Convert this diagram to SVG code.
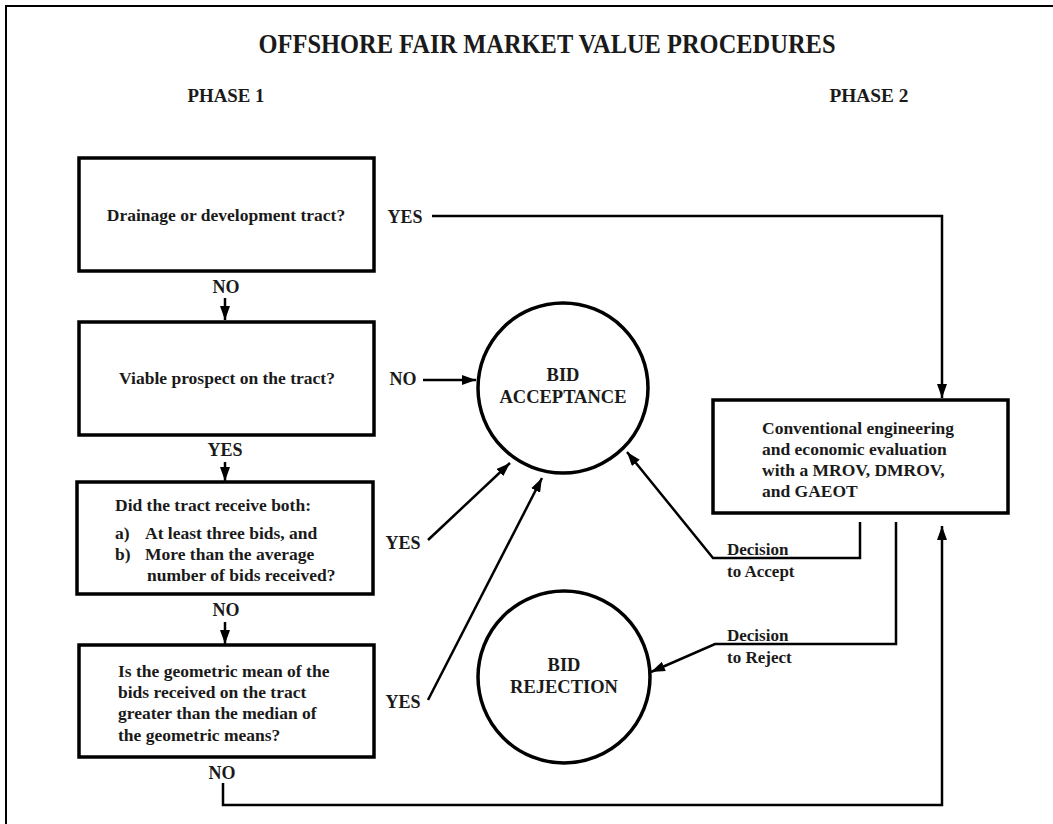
<svg xmlns="http://www.w3.org/2000/svg" width="1053" height="824" viewBox="0 0 1053 824">
<defs>
<marker id="ah" viewBox="0 0 14 10" refX="14" refY="5" markerWidth="14" markerHeight="10" markerUnits="userSpaceOnUse" orient="auto">
<path d="M0,0 L14,5 L0,10 Z" fill="#000"/>
</marker>
<style>
text{font-family:"Liberation Serif","Times New Roman",serif;font-weight:bold;fill:#1a1a1a}
.t{font-size:28px;text-anchor:middle}
.ph{font-size:19px;text-anchor:middle}
.bx{fill:#fff;stroke:#000;stroke-width:3.5}
.cr{fill:#fff;stroke:#000;stroke-width:3.5}
.bt{font-size:17.5px}
.c{text-anchor:middle}
.lb{font-size:18px;text-anchor:middle}
.ct{font-size:18.5px;text-anchor:middle}
.dt{font-size:17px}
.ln{fill:none;stroke:#000;stroke-width:2.5}
.la{fill:none;stroke:#000;stroke-width:2.5;marker-end:url(#ah)}
</style>
</defs>
<rect width="1053" height="824" fill="#fff"/>
<path d="M6,824 V6 H1053" fill="none" stroke="#000" stroke-width="2"/>
<text class="t" x="547" y="53" textLength="577" lengthAdjust="spacingAndGlyphs">OFFSHORE FAIR MARKET VALUE PROCEDURES</text>
<text class="ph" x="226" y="102" textLength="77" lengthAdjust="spacingAndGlyphs">PHASE 1</text>
<text class="ph" x="869" y="102" textLength="79" lengthAdjust="spacingAndGlyphs">PHASE 2</text>

<g id="connectors">
<path class="la" d="M432,216 H942 V398"/>
<path class="la" d="M225,298 V320"/>
<path class="la" d="M423,380 H476"/>
<path class="la" d="M225,462 V481"/>
<path class="la" d="M428,540 L510,463"/>
<path class="la" d="M225,622 V644"/>
<path class="la" d="M428,700 L542,478"/>
<path class="la" d="M860,522 V558 H713 L627,452"/>
<path class="la" d="M896,522 V644 H715 L651,672"/>
<path class="la" d="M223,783 V805 H942 V526"/>
</g>

<g id="labels">
<text class="lb" x="405" y="223">YES</text>
<text class="lb" x="226" y="293">NO</text>
<text class="lb" x="403" y="385">NO</text>
<text class="lb" x="225" y="456">YES</text>
<text class="lb" x="403" y="549">YES</text>
<text class="lb" x="226" y="616">NO</text>
<text class="lb" x="403" y="708">YES</text>
<text class="lb" x="222" y="779">NO</text>
<text class="dt" x="727" y="555">Decision</text>
<text class="dt" x="727" y="577">to Accept</text>
<text class="dt" x="727" y="641">Decision</text>
<text class="dt" x="727" y="663">to Reject</text>
</g>

<g id="box1">
<rect class="bx" x="79" y="158" width="295" height="113"/>
<text class="bt c" x="226" y="221">Drainage or development tract?</text>
</g>
<g id="box2">
<rect class="bx" x="79" y="322" width="295" height="113"/>
<text class="bt c" x="227" y="384">Viable prospect on the tract?</text>
</g>
<g id="box3">
<rect class="bx" x="77" y="482" width="296" height="112"/>
<text class="bt" x="115" y="511">Did the tract receive both:</text>
<text class="bt" x="115" y="539">a)</text>
<text class="bt" x="145" y="539">At least three bids, and</text>
<text class="bt" x="115" y="560">b)</text>
<text class="bt" x="145" y="560">More than the average</text>
<text class="bt" x="147" y="581">number of bids received?</text>
</g>
<g id="box4">
<rect class="bx" x="79" y="645" width="295" height="112"/>
<text class="bt" x="118" y="677">Is the geometric mean of the</text>
<text class="bt" x="118" y="698">bids received on the tract</text>
<text class="bt" x="118" y="719">greater than the median of</text>
<text class="bt" x="118" y="741">the geometric means?</text>
</g>
<g id="box5">
<rect class="bx" x="713" y="400" width="295" height="113"/>
<text class="bt" x="762" y="434">Conventional engineering</text>
<text class="bt" x="762" y="455">and economic evaluation</text>
<text class="bt" x="762" y="476">with a MROV, DMROV,</text>
<text class="bt" x="762" y="497">and GAEOT</text>
</g>
<g id="bidAcceptance">
<circle class="cr" cx="563" cy="388" r="85"/>
<text class="ct" x="563" y="381">BID</text>
<text class="ct" x="563" y="403">ACCEPTANCE</text>
</g>
<g id="bidRejection">
<circle class="cr" cx="564" cy="677" r="86"/>
<text class="ct" x="564" y="671">BID</text>
<text class="ct" x="564" y="693">REJECTION</text>
</g>
</svg>
